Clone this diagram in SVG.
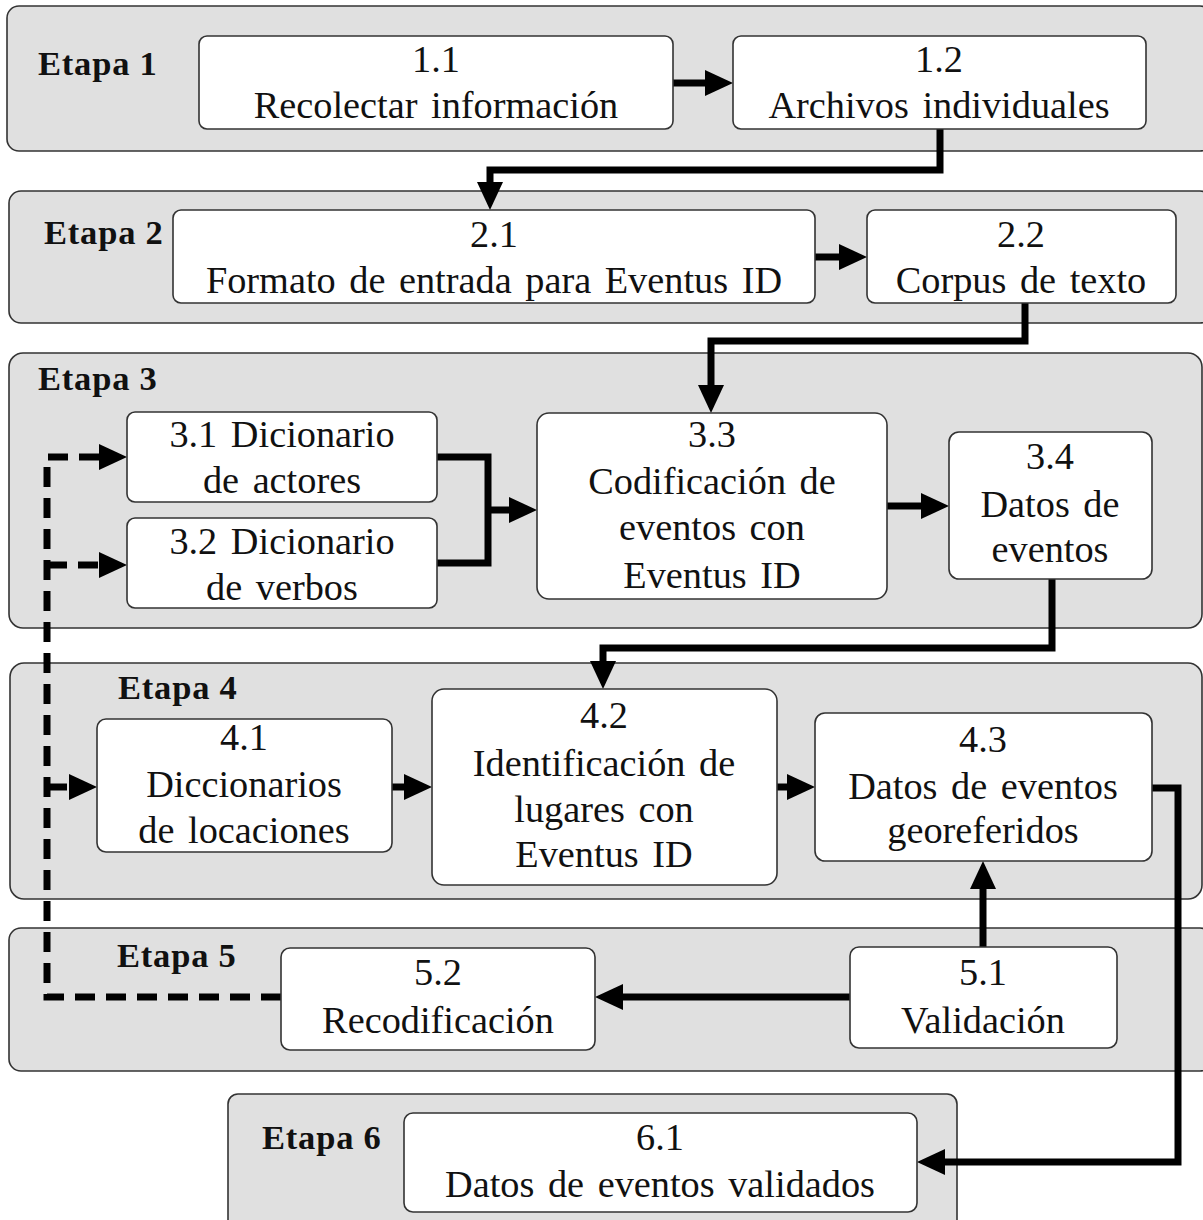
<svg xmlns="http://www.w3.org/2000/svg" width="1203" height="1220" viewBox="0 0 1203 1220">
<style>
.panel{fill:#e0e0e0;stroke:#333;stroke-width:1.6}
.node{fill:#fff;stroke:#333;stroke-width:1.6}
.t{font-family:"Liberation Serif","Times New Roman",serif;font-size:38.3px;fill:#111;text-anchor:middle;word-spacing:4px}
.et{font-family:"Liberation Serif","Times New Roman",serif;font-size:34.5px;font-weight:bold;fill:#111;letter-spacing:0.8px}
.c{fill:none;stroke:#000;stroke-width:7;stroke-linejoin:miter}
.d{fill:none;stroke:#000;stroke-width:7;stroke-dasharray:20 11}
</style>
<defs>
<marker id="ah" markerUnits="userSpaceOnUse" markerWidth="30" markerHeight="28" refX="0" refY="13" orient="auto" overflow="visible">
<path d="M0,0 L28,13 L0,26 Z" fill="#000"/>
</marker>
</defs>
<g id="stages">
<g id="etapa1"><rect class="panel" x="7" y="6" width="1205" height="145" rx="12"/><text class="et" x="38" y="75">Etapa 1</text></g>
<g id="etapa2"><rect class="panel" x="9" y="191" width="1203" height="132" rx="12"/><text class="et" x="44" y="244">Etapa 2</text></g>
<g id="etapa3"><rect class="panel" x="9" y="353" width="1193" height="275" rx="14"/><text class="et" x="38" y="390">Etapa 3</text></g>
<g id="etapa4"><rect class="panel" x="10" y="663" width="1192" height="236" rx="14"/><text class="et" x="118" y="699">Etapa 4</text></g>
<g id="etapa5"><rect class="panel" x="9" y="928" width="1203" height="143" rx="12"/><text class="et" x="117" y="967">Etapa 5</text></g>
<g id="etapa6"><rect class="panel" x="228" y="1094" width="729" height="140" rx="10"/><text class="et" x="262" y="1149">Etapa 6</text></g>
</g>
<g id="connectors">
<path class="c" d="M673,83 H705" marker-end="url(#ah)"/>
<path class="c" d="M940,129 V170 H490 V182" marker-end="url(#ah)"/>
<path class="c" d="M815,257 H839" marker-end="url(#ah)"/>
<path class="c" d="M1025,303 V341 H711 V385" marker-end="url(#ah)"/>
<path class="c" d="M437,457 H488 V563 H437"/>
<path class="c" d="M488,510 H509" marker-end="url(#ah)"/>
<path class="c" d="M887,506 H921" marker-end="url(#ah)"/>
<path class="c" d="M1052,579 V648 H603 V661" marker-end="url(#ah)"/>
<path class="c" d="M392,787 H404" marker-end="url(#ah)"/>
<path class="c" d="M777,787 H787" marker-end="url(#ah)"/>
<path class="c" d="M1152,788 H1178 V1162 H945" marker-end="url(#ah)"/>
<path class="c" d="M983,947 V889" marker-end="url(#ah)"/>
<path class="c" d="M850,997 H623" marker-end="url(#ah)"/>
<path class="d" d="M281,997 H47 V457 H99" marker-end="url(#ah)"/>
<path class="d" d="M47,565 H99" marker-end="url(#ah)"/>
<path class="d" d="M47,787 H69" marker-end="url(#ah)"/>
</g>
<g id="n11"><rect class="node" x="199" y="36" width="474" height="93" rx="8"/><text class="t" x="436" y="72">1.1</text><text class="t" x="436" y="118">Recolectar información</text></g>
<g id="n12"><rect class="node" x="733" y="36" width="413" height="93" rx="8"/><text class="t" x="939" y="72">1.2</text><text class="t" x="939" y="118">Archivos individuales</text></g>
<g id="n21"><rect class="node" x="173" y="210" width="642" height="93" rx="8"/><text class="t" x="494" y="247">2.1</text><text class="t" x="494" y="293">Formato de entrada para Eventus ID</text></g>
<g id="n22"><rect class="node" x="867" y="210" width="309" height="93" rx="8"/><text class="t" x="1021" y="247">2.2</text><text class="t" x="1021" y="293">Corpus de texto</text></g>
<g id="n31"><rect class="node" x="127" y="412" width="310" height="90" rx="8"/><text class="t" x="282" y="447">3.1 Dicionario</text><text class="t" x="282" y="493">de actores</text></g>
<g id="n32"><rect class="node" x="127" y="518" width="310" height="90" rx="8"/><text class="t" x="282" y="554">3.2 Dicionario</text><text class="t" x="282" y="600">de verbos</text></g>
<g id="n33"><rect class="node" x="537" y="413" width="350" height="186" rx="12"/><text class="t" x="712" y="447">3.3</text><text class="t" x="712" y="494">Codificación de</text><text class="t" x="712" y="540">eventos con</text><text class="t" x="712" y="588">Eventus ID</text></g>
<g id="n34"><rect class="node" x="949" y="432" width="203" height="147" rx="10"/><text class="t" x="1050" y="469">3.4</text><text class="t" x="1050" y="517">Datos de</text><text class="t" x="1050" y="562">eventos</text></g>
<g id="n41"><rect class="node" x="97" y="719" width="295" height="133" rx="9"/><text class="t" x="244" y="750">4.1</text><text class="t" x="244" y="797">Diccionarios</text><text class="t" x="244" y="843">de locaciones</text></g>
<g id="n42"><rect class="node" x="432" y="689" width="345" height="196" rx="12"/><text class="t" x="604" y="728">4.2</text><text class="t" x="604" y="776">Identificación de</text><text class="t" x="604" y="822">lugares con</text><text class="t" x="604" y="867">Eventus ID</text></g>
<g id="n43"><rect class="node" x="815" y="713" width="337" height="148" rx="10"/><text class="t" x="983" y="752">4.3</text><text class="t" x="983" y="799">Datos de eventos</text><text class="t" x="983" y="843">georeferidos</text></g>
<g id="n52"><rect class="node" x="281" y="948" width="314" height="102" rx="9"/><text class="t" x="438" y="985">5.2</text><text class="t" x="438" y="1033">Recodificación</text></g>
<g id="n51"><rect class="node" x="850" y="947" width="267" height="101" rx="9"/><text class="t" x="983" y="985">5.1</text><text class="t" x="983" y="1033">Validación</text></g>
<g id="n61"><rect class="node" x="404" y="1113" width="513" height="99" rx="9"/><text class="t" x="660" y="1150">6.1</text><text class="t" x="660" y="1197">Datos de eventos validados</text></g>
</svg>
